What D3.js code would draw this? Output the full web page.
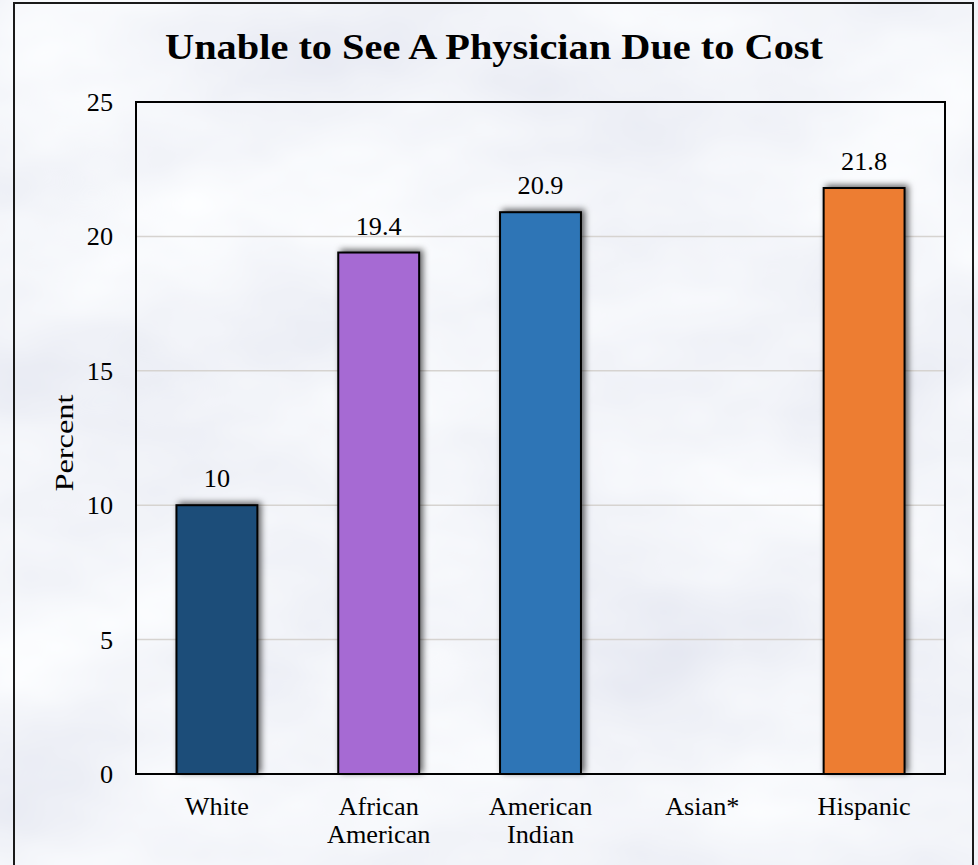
<!DOCTYPE html>
<html>
<head>
<meta charset="utf-8">
<script src="https://cdn.jsdelivr.net/npm/d3@7"></script>
<style>
  html, body { margin: 0; padding: 0; background: #e4e8f2; }
  svg { display: block; }
</style>
</head>
<body>
<svg id="chart" width="978" height="865"></svg>
<script>
// Chart data
const categories = ["White", "African American", "American Indian", "Asian*", "Hispanic"];
const values = [10, 19.4, 20.9, null, 21.8];
const barColors = ["#1f4e79", "#a66bd3", "#2e75b6", "#a5a5a5", "#ed7d31"];
const yTicks = [0, 5, 10, 15, 20, 25];
const titleText = "Unable to See A Physician Due to Cost";
const yAxisTitle = "Percent";

const W = 978, H = 865;
const plot = { left: 136, right: 945, top: 102, bottom: 774 };
const FONT = "'Liberation Serif', 'Times New Roman', serif";
const WIDEN = 1.05; // stretch Times-metric glyphs toward a book-face width

const svg = d3.select("#chart");
const defs = svg.append("defs");

// Crumpled-paper backdrop
const paper = defs.append("filter").attr("id", "paper")
  .attr("x", 0).attr("y", 0).attr("width", W).attr("height", H)
  .attr("filterUnits", "userSpaceOnUse");
paper.append("feTurbulence").attr("type", "fractalNoise")
  .attr("baseFrequency", "0.004 0.007").attr("numOctaves", 4).attr("seed", 11)
  .attr("result", "noise");
paper.append("feColorMatrix").attr("in", "noise").attr("type", "matrix")
  .attr("values", [
    0.24, 0, 0, 0, 0.775,
    0.23, 0, 0, 0, 0.795,
    0.15, 0, 0, 0, 0.875,
    0, 0, 0, 0, 1
  ].join(" "));

// Soft shadow under each bar
const shadow = defs.append("filter").attr("id", "barShadow")
  .attr("x", "-30%").attr("y", "-30%").attr("width", "160%").attr("height", "160%");
shadow.append("feDropShadow").attr("dx", 3).attr("dy", -2)
  .attr("stdDeviation", 3).attr("flood-color", "#000").attr("flood-opacity", 0.6);

svg.append("rect").attr("width", W).attr("height", H)
  .attr("fill", "#e4e8f2").attr("filter", "url(#paper)");

// Outer frame
svg.append("rect").attr("x", 14).attr("y", 3).attr("width", 959).attr("height", H + 10)
  .attr("fill", "none").attr("stroke", "#1a1a1a").attr("stroke-width", 2);

// Scales
const x = d3.scaleBand().domain(categories)
  .range([plot.left, plot.right]).paddingInner(0.5).paddingOuter(0.25);
const y = d3.scaleLinear().domain([0, 25]).range([plot.bottom, plot.top]);

function widen(sel, k) {
  sel.each(function () {
    const len = this.getComputedTextLength();
    if (len > 0) d3.select(this).attr("textLength", len * k).attr("lengthAdjust", "spacingAndGlyphs");
  });
}

// Gridlines
svg.append("g").selectAll("line")
  .data(yTicks.filter(d => d > 0 && d < 25))
  .join("line")
  .attr("x1", plot.left).attr("x2", plot.right)
  .attr("y1", d => y(d)).attr("y2", d => y(d))
  .attr("stroke", "#d6d3d0").attr("stroke-width", 1.5);

// Y axis labels
const yAxis = svg.append("g").attr("transform", `translate(${plot.left},0)`)
  .call(d3.axisLeft(y).tickValues(yTicks).tickSize(0).tickPadding(23));
yAxis.select(".domain").remove();
yAxis.selectAll("text")
  .attr("font-family", FONT).attr("font-size", 25).attr("fill", "#000")
  .attr("dy", "0.34em");
widen(yAxis.selectAll("text"), WIDEN);

// Bars
const barData = categories.map((c, i) => ({ c, v: values[i], color: barColors[i] }))
  .filter(d => d.v != null);

svg.append("g").selectAll("rect")
  .data(barData)
  .join("rect")
  .attr("x", d => x(d.c))
  .attr("y", d => y(d.v))
  .attr("width", x.bandwidth())
  .attr("height", d => y(0) - y(d.v))
  .attr("fill", d => d.color)
  .attr("stroke", "#000").attr("stroke-width", 2)
  .attr("filter", "url(#barShadow)");

// Value labels
const valLabels = svg.append("g").selectAll("text")
  .data(barData)
  .join("text")
  .attr("x", d => x(d.c) + x.bandwidth() / 2)
  .attr("y", d => y(d.v) - 18)
  .attr("text-anchor", "middle")
  .attr("font-family", FONT).attr("font-size", 25).attr("fill", "#000")
  .text(d => d.v);
widen(valLabels, WIDEN);

// Plot frame
svg.append("rect")
  .attr("x", plot.left).attr("y", plot.top)
  .attr("width", plot.right - plot.left).attr("height", plot.bottom - plot.top)
  .attr("fill", "none").attr("stroke", "#000").attr("stroke-width", 2);

// X axis category labels (two lines where needed)
const xAxis = svg.append("g").attr("transform", `translate(0,${plot.bottom})`)
  .call(d3.axisBottom(x).tickSize(0).tickPadding(0));
xAxis.select(".domain").remove();
xAxis.selectAll(".tick text").each(function (d) {
  const t = d3.select(this).text("").attr("y", 0).attr("dy", null)
    .attr("font-family", FONT).attr("font-size", 25).attr("fill", "#000");
  d.split(" ").forEach((w, i) => {
    t.append("tspan").attr("x", 0).attr("y", 41 + i * 28).text(w);
  });
});
xAxis.selectAll(".tick tspan").each(function () {
  const len = this.getComputedTextLength();
  d3.select(this).attr("textLength", len * WIDEN).attr("lengthAdjust", "spacingAndGlyphs");
});

// Y axis title
svg.append("text")
  .attr("transform", `translate(73,${(plot.top + plot.bottom) / 2 + 5}) rotate(-90)`)
  .attr("text-anchor", "middle")
  .attr("font-family", FONT).attr("font-size", 25).attr("fill", "#000")
  .text(yAxisTitle)
  .attr("textLength", 97).attr("lengthAdjust", "spacingAndGlyphs");

// Title
svg.append("text")
  .attr("x", 494).attr("y", 59)
  .attr("text-anchor", "middle")
  .attr("font-family", FONT).attr("font-size", 36).attr("font-weight", "bold")
  .attr("fill", "#000")
  .text(titleText)
  .attr("textLength", 658).attr("lengthAdjust", "spacingAndGlyphs");
</script>
</body>
</html>
